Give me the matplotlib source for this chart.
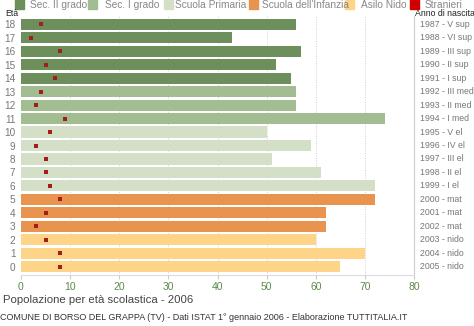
import matplotlib
matplotlib.use("Agg")
import matplotlib.pyplot as plt
from matplotlib.patches import Rectangle

plt.rcParams['font.family'] = ['Liberation Sans', 'DejaVu Sans']

ages = list(range(19))
totals = [65, 70, 60, 62, 62, 72, 72, 61, 51, 59, 50, 74, 56, 56, 55, 52, 57, 43, 56]
stranieri = [8, 8, 5, 3, 5, 8, 6, 5, 5, 3, 6, 9, 3, 4, 7, 5, 8, 2, 4]
birth_labels = ["2005 - nido", "2004 - nido", "2003 - nido", "2002 - mat", "2001 - mat",
                "2000 - mat", "1999 - I el", "1998 - II el", "1997 - III el", "1996 - IV el",
                "1995 - V el", "1994 - I med", "1993 - II med", "1992 - III med",
                "1991 - I sup", "1990 - II sup", "1989 - III sup", "1988 - VI sup",
                "1987 - V sup"]
groups = ["Asilo Nido"] * 3 + ["Scuola dell'Infanzia"] * 3 + ["Scuola Primaria"] * 5 \
    + ["Sec. I grado"] * 3 + ["Sec. II grado"] * 5
xticks = [0, 10, 20, 30, 40, 50, 60, 70, 80]

colors = {
    "Sec. II grado": "#6d8f5c",
    "Sec. I grado": "#a3bd92",
    "Scuola Primaria": "#d3dfc7",
    "Scuola dell'Infanzia": "#e8944f",
    "Asilo Nido": "#fdd488",
    "Stranieri": "#a51c1c",
}
legend_colors = dict(colors, Stranieri="#d00000")
legend_order = ["Sec. II grado", "Sec. I grado", "Scuola Primaria",
                "Scuola dell'Infanzia", "Asilo Nido", "Stranieri"]

W, H = 474, 326
fig = plt.figure(figsize=(4.74, 3.26), dpi=100)
ax = fig.add_axes([21 / W, 1 - 275 / H, (414 - 21) / W, (275 - 16) / H])

ax.barh(ages, totals, height=0.82, color=[colors[g] for g in groups], zorder=2)
ax.scatter(stranieri, ages, marker="s", s=9, color=colors["Stranieri"], zorder=3, linewidths=0)

ax.set_xlim(0, 80)
ax.set_ylim(-0.6, 18.6)
ax.set_xticks(xticks)
ax.set_xticklabels([str(t) for t in xticks], color="#5b8a4c", fontsize=7.5)
ax.set_yticks(ages)
ax.set_yticklabels([str(a) for a in ages], color="#777777", fontsize=7.2)
ax.tick_params(axis="y", length=0, pad=4)
ax.tick_params(axis="x", length=3, color="#cccccc", pad=2)
for v in xticks[1:-1]:
    ax.axvline(v, color="#cfcfcf", linestyle=(0, (1, 1.5)), linewidth=0.7, zorder=1)
for side in ["top", "left"]:
    ax.spines[side].set_visible(False)
ax.spines["bottom"].set_color("#dddddd")
ax.spines["right"].set_color("#cccccc")
ax.spines["right"].set_linewidth(0.8)

# birth-year labels on the right
for a, lab in zip(ages, birth_labels):
    ax.text(1.014, (a + 0.6) / 19.2, lab, transform=ax.transAxes, ha="left", va="center",
            fontsize=6.3, color="#777777")

fig.text(5 / W, 1 - 13 / H, "Età", fontsize=6.3, color="#222222", ha="left", va="center")
fig.text(415 / W, 1 - 13 / H, "Anno di nascita", fontsize=6.3, color="#222222",
         ha="left", va="center")

# legend row
leg_sq = [15, 88, 164, 249, 345, 410]
leg_tx = [30, 105, 175, 262, 361, 425]
for name, xs, xt in zip(legend_order, leg_sq, leg_tx):
    fig.patches.append(Rectangle((xs / W, 1 - 9 / H), 9 / W, 10 / H,
                                 transform=fig.transFigure, color=legend_colors[name]))
    fig.text(xt / W, 1 - 5 / H, name, fontsize=7.3, color="#888888",
             ha="left", va="center")

fig.text(3 / W, 1 - 300 / H, "Popolazione per età scolastica - 2006", fontsize=8.2,
         color="#444444", ha="left", va="center")
fig.text(0, 1 - 318 / H,
         "COMUNE DI BORSO DEL GRAPPA (TV) - Dati ISTAT 1° gennaio 2006 - Elaborazione TUTTITALIA.IT",
         fontsize=6.5, color="#333333", ha="left", va="center")

fig.savefig("out.png", dpi=100)
